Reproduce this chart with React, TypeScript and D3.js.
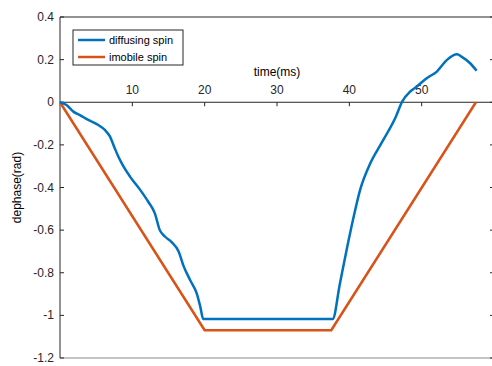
import React from "react";
import * as d3 from "d3";

const diffT = [0, 0.9, 1.85, 2.76, 3.9, 4.6, 5.3, 6.2, 6.9, 7.5, 8.06, 8.75, 9.7, 11.06, 12.2, 13.1, 13.8, 14.5, 15.4, 16.4, 17.1, 18.0, 18.9, 19.4, 19.8, 37.7, 38.7, 39.7, 40.6, 41.5, 42.9, 44.3, 45.4, 46.4, 47.3, 48.4, 49.3, 50.7, 52.1, 53.5, 54.9, 55.5, 56.7, 57.6];
const diffV = [0, -0.013, -0.044, -0.06, -0.083, -0.094, -0.107, -0.13, -0.16, -0.21, -0.255, -0.3, -0.35, -0.41, -0.467, -0.52, -0.6, -0.63, -0.655, -0.7, -0.77, -0.835, -0.897, -0.96, -1.017, -1.017, -0.85, -0.68, -0.537, -0.41, -0.286, -0.2, -0.135, -0.07, 0.003, 0.05, 0.073, 0.113, 0.144, 0.199, 0.225, 0.214, 0.183, 0.148];
const imobT = [0, 20, 37.5, 57.5];
const imobV = [0, -1.07, -1.07, 0];
const xTicks = [10, 20, 30, 40, 50];
const yTicks = [0.4, 0.2, 0, -0.2, -0.4, -0.6, -0.8, -1, -1.2];
const seriesNames = ["diffusing spin", "imobile spin"];
const colors = ["#0072BD", "#D95319"];

export default function App() {
  const W = 492, H = 366;
  const x = d3.scaleLinear().domain([0, 60]).range([60, 494]);
  const y = d3.scaleLinear().domain([-1.2, 0.4]).range([358, 17]);
  const line = d3.line<[number, number]>().x(d => x(d[0])).y(d => y(d[1]));
  const smooth = d3.line<[number, number]>().x(d => x(d[0])).y(d => y(d[1])).curve(d3.curveMonotoneX);
  const dPts = diffT.map((t, i) => [t, diffV[i]] as [number, number]);
  const iPts = imobT.map((t, i) => [t, imobV[i]] as [number, number]);
  const ax = "#262626";
  const font = "Liberation Sans, Arial, sans-serif";
  return (
    <svg width={W} height={H} style={{ position: "absolute", left: 0, top: 0, background: "#fff" }}>
      <rect x={0} y={0} width={W} height={H} fill="#fff" />
      <line x1={x(0)} x2={x(60)} y1={y(0.4)} y2={y(0.4)} stroke={ax} strokeWidth={1} />
      <line x1={x(0)} x2={x(60)} y1={y(-1.2)} y2={y(-1.2)} stroke="#8a8a8a" strokeWidth={1.2} />
      <line x1={x(0)} x2={x(0)} y1={y(0.4)} y2={y(-1.2)} stroke={ax} strokeWidth={1} />
      <line x1={x(60)} x2={x(60)} y1={y(0.4)} y2={y(-1.2)} stroke={ax} strokeWidth={1} />
      <line x1={x(0)} x2={x(60)} y1={y(0)} y2={y(0)} stroke={ax} strokeWidth={1} />
      {xTicks.map(t => (
        <g key={t}>
          <line x1={x(t)} x2={x(t)} y1={y(0)} y2={y(0) + 4} stroke={ax} />
          <text x={x(t)} y={y(0) - 8} textAnchor="middle" fontSize={12} fill={ax} fontFamily={font}>{t}</text>
        </g>
      ))}
      {yTicks.map(t => (
        <g key={t}>
          <line x1={x(0)} x2={x(0) + 4} y1={y(t)} y2={y(t)} stroke={ax} />
          <line x1={x(60) - 4} x2={x(60)} y1={y(t)} y2={y(t)} stroke={ax} />
          <text x={x(0) - 6} y={y(t) + 4} textAnchor="end" fontSize={12} fill={ax} fontFamily={font}>{t}</text>
        </g>
      ))}
      <text x={x(30)} y={y(0) - 26} textAnchor="middle" fontSize={12} fill="#000" fontFamily={font}>time(ms)</text>
      <text transform={`translate(21,${(y(0.4) + y(-1.2)) / 2}) rotate(-90)`} textAnchor="middle" fontSize={12} fill="#000" fontFamily={font}>dephase(rad)</text>
      <path d={line(iPts) || ""} fill="none" stroke={colors[1]} strokeWidth={2.5} strokeLinejoin="round" />
      <path d={smooth(dPts) || ""} fill="none" stroke={colors[0]} strokeWidth={2.5} strokeLinejoin="round" />
      <rect x={73} y={30} width={110} height={35} fill="#fff" stroke={ax} strokeWidth={1} />
      {seriesNames.map((n, i) => (
        <g key={n}>
          <line x1={78} x2={105} y1={40 + i * 17} y2={40 + i * 17} stroke={colors[i]} strokeWidth={2.5} />
          <text x={109} y={44 + i * 17} fontSize={11} fill="#000" fontFamily={font}>{n}</text>
        </g>
      ))}
    </svg>
  );
}
